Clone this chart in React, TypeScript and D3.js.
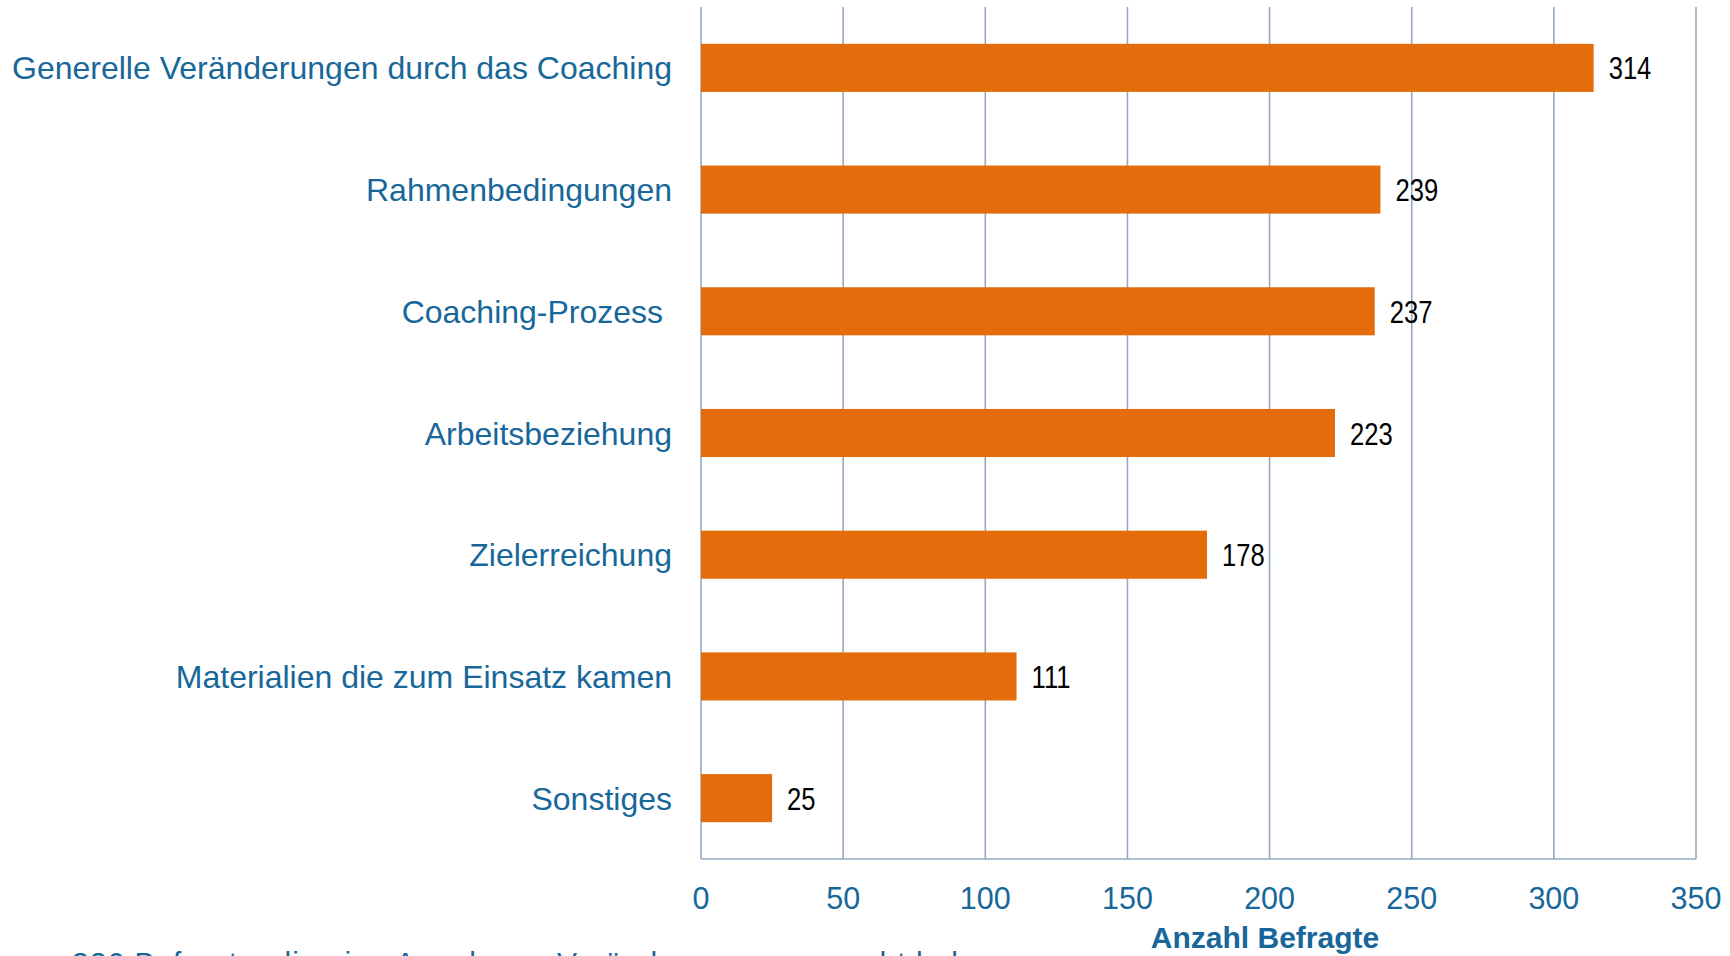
import React from 'react';
import * as d3 from 'd3';

// categories and counts (Anzahl Befragte)
const categories = [
  'Generelle Veränderungen durch das Coaching',
  'Rahmenbedingungen',
  'Coaching-Prozess ',
  'Arbeitsbeziehung',
  'Zielerreichung',
  'Materialien die zum Einsatz kamen',
  'Sonstiges',
];
const counts = [314, 239, 237, 223, 178, 111, 25];
const tickValues = [0, 50, 100, 150, 200, 250, 300, 350];
const axisTitle = 'Anzahl Befragte';
const footnote = '326 Befragte, die eine Angabe zu Veränderungen gemacht haben';

const width = 1730;
const height = 956;
const margin = { top: 7, right: 34, bottom: 97, left: 701 };

const blue = '#17679A';
const orange = '#E46C0A';
const grid = '#95A9C3';

const App = () => {
  const x = d3.scaleLinear()
    .domain([0, 350])
    .range([margin.left, width - margin.right]);

  const y = d3.scaleBand()
    .domain(categories)
    .range([margin.top, height - margin.bottom])
    .paddingInner(0.605)
    .paddingOuter(0.3025);

  const bottom = height - margin.bottom;

  return (
    <svg width={width} height={height} style={{ position: 'absolute', left: 0, top: 0, background: '#fff' }}
      fontFamily="'Liberation Sans', Arial, sans-serif">
      {/* gridlines */}
      {tickValues.map(t => (
        <line key={'g' + t} x1={x(t)} x2={x(t)} y1={margin.top} y2={bottom}
          stroke={grid} strokeWidth={1.6} />
      ))}
      <line x1={x(0)} x2={x(350)} y1={bottom} y2={bottom} stroke={grid} strokeWidth={1.6} />

      {/* bars */}
      {categories.map((c, i) => (
        <rect key={'b' + c} x={x(0)} y={y(c)} width={x(counts[i]) - x(0)} height={y.bandwidth()}
          fill={orange} />
      ))}

      {/* value labels, narrow face */}
      {categories.map((c, i) => (
        <text key={'v' + c}
          transform={`translate(${x(counts[i]) + 15},${y(c)! + y.bandwidth() / 2}) scale(0.8,1)`}
          dy="0.36em" fontSize={32} fill="#000">{counts[i]}</text>
      ))}

      {/* category labels */}
      {categories.map(c => (
        <text key={'c' + c} x={672} y={y(c)! + y.bandwidth() / 2} dy="0.36em" textAnchor="end"
          fontSize={32} fill={blue} style={{ whiteSpace: 'pre' }}>{c}</text>
      ))}

      {/* tick labels */}
      {tickValues.map(t => (
        <text key={'t' + t} x={x(t)} y={909} textAnchor="middle" fontSize={30.5} fill={blue}>{t}</text>
      ))}

      <text x={1265} y={948} textAnchor="middle" fontSize={30} fontWeight="bold" fill={blue}>{axisTitle}</text>

      {/* footnote sits below the frame, mostly clipped as in the original */}
      <text x={72} y={973} fontSize={30} letterSpacing={1} fill={blue}>{footnote}</text>
    </svg>
  );
};

export default App;
